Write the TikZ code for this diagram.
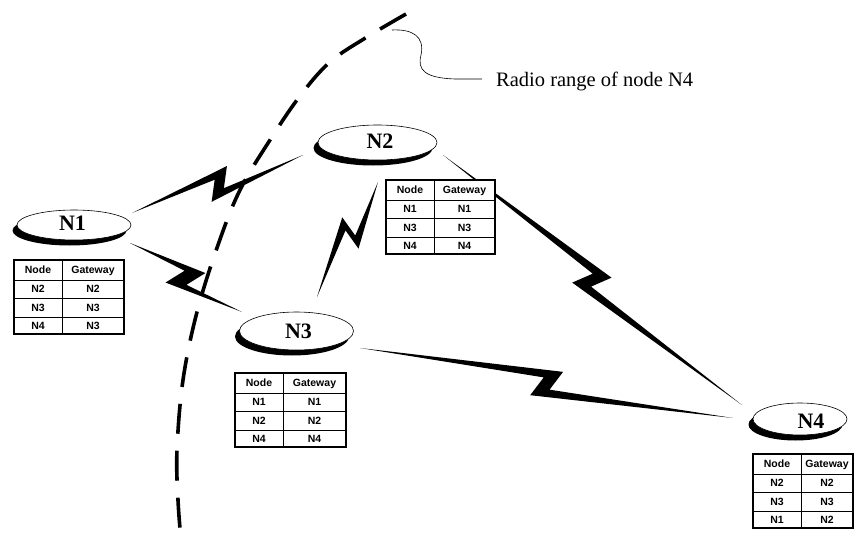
\documentclass[tikz,border=0pt]{standalone}
\usepackage{fontspec}
\setmainfont{Liberation Serif}
\newfontfamily\tabfont{Liberation Sans}
\usetikzlibrary{calc,shapes.geometric}
\tikzset{
  nodelabel/.style={font=\fontsize{22}{22}\selectfont\bfseries, inner sep=0pt, text height=14.5pt, text depth=0pt},
  cell/.style={font=\tabfont\fontsize{10.5}{10.5}\selectfont\bfseries, inner sep=0pt, text height=7.5pt, text depth=0pt},
  tabouter/.style={line width=1.3pt},
  tabinner/.style={line width=0.8pt},
  shadowell/.style={ellipse, fill=black, inner sep=0pt},
  ell/.style={ellipse, fill=white, draw=black, line width=0.6pt, inner sep=0pt},
  rangeline/.style={line width=3.6pt, dash pattern=on 30pt off 17pt},
  rangehalo/.style={line width=6pt, white, dash pattern=on 30pt off 17pt},
  boltfill/.style={fill=black},
  callout/.style={line width=0.6pt},
  rangetext/.style={font=\fontsize{20.5}{20.5}\selectfont, inner sep=0pt, anchor=base west},
}
% #1 A, #2 B, #3 forward tip distance, #4 back tip distance
\newcommand\zbolt[4]{%
  \fill[boltfill] (#1)
    -- ($(#1)!{#3}!(#2)!14pt!90:(#2)$)
    -- ($(#1)!{#3-10pt}!(#2)!6pt!-90:(#2)$)
    -- (#2)
    -- ($(#1)!{#4}!(#2)!15pt!-90:(#2)$)
    -- ($(#1)!{#4+10pt}!(#2)!5pt!90:(#2)$)
    -- cycle;}
% #1 name, #2 position, #3 width, #4-#9 entries
\newcommand\rtab[9]{%
  \begin{scope}[shift={#2}]
    \fill[white] (0,0) rectangle (#3,74);
    \draw[tabinner] (48,0) -- (48,74) (0,20) -- (#3,20) (0,38) -- (#3,38) (0,57) -- (#3,57);
    \draw[tabouter] (0,0) rectangle (#3,74);
    \node[cell] (#1h1) at (24,10) {Node};
    \node[cell] (#1h2) at ({(48+#3)/2},10) {Gateway};
    \node[cell] (#1a1) at (24,29) {#4};
    \node[cell] (#1a2) at ({(48+#3)/2},29) {#5};
    \node[cell] (#1b1) at (24,47.5) {#6};
    \node[cell] (#1b2) at ({(48+#3)/2},47.5) {#7};
    \node[cell] (#1c1) at (24,65.5) {#8};
    \node[cell] (#1c2) at ({(48+#3)/2},65.5) {#9};
  \end{scope}}
% #1 name, #2 center x, #3 center y, #4 rx, #5 ry
\newcommand\netnode[5]{%
  \node[shadowell, minimum width={2*#4*1pt}, minimum height={2*#5*1pt}] (#1s) at ({#2-4.5},{#3+5.5}) {};
  \node[ell, minimum width={2*#4*1pt}, minimum height={2*#5*1pt}] (#1) at (#2,#3) {};}
\begin{document}
\begin{tikzpicture}[x=1pt,y=-1pt]
\useasboundingbox (0,0) rectangle (855,538);

% bolt end points
\coordinate (b12a) at (132,213); \coordinate (b12b) at (303,155);
\coordinate (b13a) at (130,243); \coordinate (b13b) at (242,312);
\coordinate (b23a) at (378,182); \coordinate (b23b) at (317,297);
\coordinate (b24a) at (443,155); \coordinate (b24b) at (742,405);
\coordinate (b34a) at (360,348); \coordinate (b34b) at (733,418);

\zbolt{b12a}{b12b}{105pt}{79pt}
\zbolt{b13a}{b13b}{80pt}{51pt}
\zbolt{b23a}{b23b}{68pt}{48pt}
\zbolt{b24a}{b24b}{208pt}{181pt}
\zbolt{b34a}{b34b}{204pt}{176pt}

% radio range
\path[rangehalo] plot[smooth, tension=0.6] coordinates {(406,14) (367,37) (330,62) (300,96) (270,140) (240,190) (218,245) (197,312) (183,380) (177,450) (178,500) (181,540)};
\draw[rangeline] plot[smooth, tension=0.6] coordinates {(406,14) (367,37) (330,62) (300,96) (270,140) (240,190) (218,245) (197,312) (183,380) (177,450) (178,500) (181,540)};

\coordinate (rs) at (392,30);
\coordinate (re) at (482,79);
\node[rangetext] (rtxt) at (496,86) {Radio range of node N4};
\draw[callout] (rs) .. controls (412,29) and (425,36) .. (421,55) .. controls (417,70) and (425,78) .. (455,79) -- (re);

% nodes
\netnode{n1}{74}{225}{57}{15}
\netnode{n2}{377.5}{142.5}{59.5}{17.5}
\netnode{n3}{296.5}{331}{57}{19}
\netnode{n4}{800}{419}{47}{16}
\node[nodelabel] (n1t) at (72.5,223.5) {N1};
\node[nodelabel] (n2t) at (380,141.5) {N2};
\node[nodelabel] (n3t) at (298.5,331) {N3};
\node[nodelabel] (n4t) at (811,421) {N4};

% tables
\rtab{ta}{(14,260)}{110}{N2}{N2}{N3}{N3}{N4}{N3}
\rtab{tb}{(386,180)}{109}{N1}{N1}{N3}{N3}{N4}{N4}
\rtab{tc}{(235,373)}{111}{N1}{N1}{N2}{N2}{N4}{N4}
\rtab{td}{(753,454)}{100}{N2}{N2}{N3}{N3}{N1}{N2}
\end{tikzpicture}
\end{document}
